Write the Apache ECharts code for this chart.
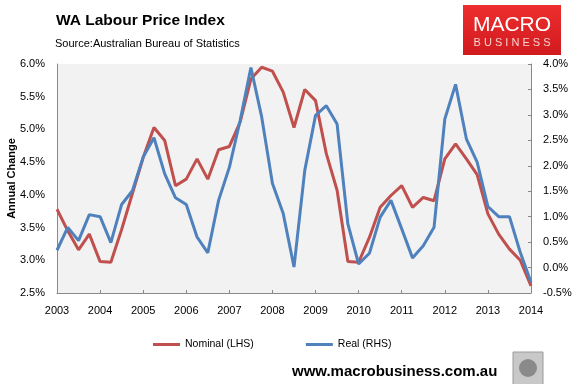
<!DOCTYPE html>
<html>
<head>
<meta charset="utf-8">
<script src="https://cdn.jsdelivr.net/npm/echarts@6/dist/echarts.min.js"></script>
<style>html,body{margin:0;padding:0;background:#fff;}#c{width:580px;height:384px;}</style>
</head>
<body>
<div id="c"></div>
<script>
// Tick labels (years) and quarterly categories
const years = ['2003','2004','2005','2006','2007','2008','2009','2010','2011','2012','2013','2014'];
const quarters = ['Q1','Q2','Q3','Q4'];
const categories = [];
years.forEach((y, yi) => {
  quarters.forEach((q, qi) => {
    if (yi < years.length - 1 || qi === 0) categories.push(y + ' ' + q);
  });
});

// Nominal wage price index growth, WA (LHS, %)
const nominal = [3.78, 3.45, 3.16, 3.40, 2.98, 2.97, 3.47, 4.02, 4.57, 5.03, 4.83, 4.14,
                 4.24, 4.55, 4.24, 4.69, 4.74, 5.11, 5.77, 5.95, 5.89, 5.57, 5.03, 5.61,
                 5.44, 4.63, 4.07, 2.98, 2.97, 3.35, 3.81, 3.99, 4.14, 3.81, 3.96, 3.91,
                 4.55, 4.78, 4.55, 4.31, 3.71, 3.40, 3.17, 3.00, 2.61];
// Real wage price index growth, WA (RHS, %)
const real = [0.34, 0.79, 0.53, 1.04, 1.00, 0.49, 1.24, 1.51, 2.17, 2.55, 1.84, 1.37,
              1.24, 0.60, 0.29, 1.32, 1.97, 2.89, 3.93, 2.96, 1.65, 1.06, 0.01, 1.91,
              2.99, 3.18, 2.82, 0.86, 0.07, 0.28, 0.99, 1.32, 0.76, 0.19, 0.43, 0.79,
              2.92, 3.60, 2.53, 2.07, 1.20, 1.00, 1.00, 0.30, -0.29];

const FONT = "'Liberation Sans', Arial, sans-serif";
const chart = echarts.init(document.getElementById('c'), null, {renderer: 'canvas'});
const pct = v => v.toFixed(1) + '%';

chart.setOption({
  animation: false,
  backgroundColor: '#ffffff',
  textStyle: {fontFamily: FONT},
  grid: {left: 57, right: 49, top: 64, bottom: 91, show: true, backgroundColor: '#f2f2f2',
         borderWidth: 0, containLabel: false, outerBoundsMode: 'none'},
  title: [
    {text: 'WA Labour Price Index', left: 56, top: 13, padding: 0,
     textStyle: {fontFamily: FONT, fontSize: 15.5, fontWeight: 'bold', color: '#000'}},
    {text: 'Source:Australian Bureau of Statistics', left: 55, top: 38, padding: 0,
     textStyle: {fontFamily: FONT, fontSize: 11, fontWeight: 'normal', color: '#000'}}
  ],
  legend: {
    left: 153, top: 339, padding: 0, itemWidth: 27, itemHeight: 3, itemGap: 52, icon: 'rect',
    textStyle: {fontFamily: FONT, fontSize: 10.5, color: '#000'},
    data: ['Nominal (LHS)', 'Real (RHS)']
  },
  xAxis: {
    type: 'category', data: categories, boundaryGap: false,
    axisLine: {onZero: false, lineStyle: {color: '#898989', width: 1}},
    axisTick: {inside: true, length: 3, interval: 3, lineStyle: {color: '#898989'}},
    axisLabel: {interval: 3, color: '#000', fontSize: 11, fontFamily: FONT, margin: 12,
                formatter: v => v.split(' ')[0]},
    splitLine: {show: false}
  },
  yAxis: [
    {type: 'value', min: 2.5, max: 6.0, interval: 0.5, position: 'left',
     name: 'Annual Change', nameLocation: 'middle', nameGap: 40, nameRotate: 90,
     nameMoveOverlap: false,
     nameTextStyle: {fontFamily: FONT, fontSize: 11, fontWeight: 'bold', color: '#000'},
     axisLine: {show: true, lineStyle: {color: '#898989'}},
     axisTick: {show: false},
     axisLabel: {formatter: pct, color: '#000', fontSize: 11, fontFamily: FONT, margin: 12},
     splitLine: {show: false}},
    {type: 'value', min: -0.5, max: 4.0, interval: 0.5, position: 'right',
     axisLine: {show: true, lineStyle: {color: '#898989'}},
     axisTick: {show: true, inside: true, length: 3, lineStyle: {color: '#898989'}},
     axisLabel: {formatter: pct, color: '#000', fontSize: 11, fontFamily: FONT, margin: 12},
     splitLine: {show: false}}
  ],
  series: [
    {name: 'Nominal (LHS)', type: 'line', yAxisIndex: 0, data: nominal, showSymbol: false,
     lineStyle: {color: '#c0504d', width: 3}, itemStyle: {color: '#c0504d'}},
    {name: 'Real (RHS)', type: 'line', yAxisIndex: 1, data: real, showSymbol: false,
     lineStyle: {color: '#4f81bd', width: 3}, itemStyle: {color: '#4f81bd'}}
  ],
  graphic: [
    {type: 'rect', shape: {x: 463, y: 5, width: 98, height: 50},
     style: {fill: new echarts.graphic.LinearGradient(0, 0, 0, 1, [
       {offset: 0, color: '#ee2e2e'}, {offset: 1, color: '#d01a1e'}])}},
    {type: 'text', x: 512, y: 25, style: {text: 'MACRO', fill: '#ffffff', font: "21px " + FONT,
     textAlign: 'center', textVerticalAlign: 'middle'}},
    {type: 'text', x: 512, y: 43, style: {text: 'B U S I N E S S', fill: '#f6d2d2', font: "11px " + FONT,
     textAlign: 'center', textVerticalAlign: 'middle'}},
    {type: 'text', x: 292, y: 372, style: {text: 'www.macrobusiness.com.au', fill: '#000', font: "bold 15px " + FONT,
     textAlign: 'left', textVerticalAlign: 'middle'}},
    {type: 'rect', shape: {x: 513, y: 352, width: 30, height: 36},
     style: {fill: '#c8c8c8', stroke: '#9a9a9a', lineWidth: 1}},
    {type: 'circle', shape: {cx: 528, cy: 368, r: 9}, style: {fill: '#8a8a8a'}}
  ]
});
</script>
</body>
</html>
